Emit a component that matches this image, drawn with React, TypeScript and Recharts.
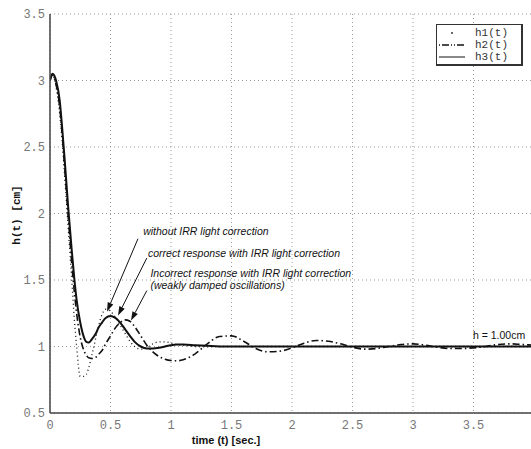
import React from 'react';
import { LineChart, Line, XAxis, YAxis, CartesianGrid, ReferenceLine, ReferenceDot, Label } from 'recharts';

const times = [0, 0.02, 0.05, 0.08, 0.1, 0.12, 0.15, 0.18, 0.2, 0.22, 0.25, 0.28, 0.3, 0.32, 0.35, 0.38, 0.4, 0.43, 0.46, 0.5, 0.54, 0.58, 0.62, 0.66, 0.7, 0.75, 0.8, 0.85, 0.9, 0.95, 1.0, 1.05, 1.1, 1.2, 1.3, 1.4, 1.5, 1.6, 1.7, 1.8, 1.9, 2.0, 2.1, 2.2, 2.3, 2.4, 2.5, 2.6, 2.7, 2.8, 2.9, 3.0, 3.1, 3.2, 3.3, 3.4, 3.5, 3.6, 3.7, 3.8, 3.9, 4.0];

// dotted: without IRR light correction
const h1 = [3.0, 3.04, 2.95, 2.75, 2.55, 2.3, 1.9, 1.5, 1.22, 1.0, 0.775, 0.775, 0.79, 0.84, 0.95, 1.07, 1.15, 1.24, 1.28, 1.265, 1.22, 1.16, 1.1, 1.04, 1.0, 0.98, 0.99, 1.02, 1.035, 1.035, 1.025, 1.015, 1.01, 1.0, 0.997, 1.0, 1.0, 1.0, 1.0, 1.0, 1.0, 1.0, 1.0, 1.0, 1.0, 1.0, 1.0, 1.0, 1.0, 1.0, 1.0, 1.0, 1.0, 1.0, 1.0, 1.0, 1.0, 1.0, 1.0, 1.0, 1.0, 1.0];

// dash-dot: incorrect response (weakly damped)
const h2 = [3.0, 3.04, 2.97, 2.8, 2.6, 2.36, 1.98, 1.62, 1.42, 1.25, 1.07, 0.97, 0.935, 0.915, 0.91, 0.92, 0.94, 0.97, 1.02, 1.08, 1.14, 1.18, 1.2, 1.19, 1.15, 1.08, 1.01, 0.96, 0.925, 0.905, 0.895, 0.893, 0.9, 0.945, 1.02, 1.075, 1.08, 1.04, 0.985, 0.96, 0.965, 0.99, 1.025, 1.045, 1.04, 1.02, 0.995, 0.98, 0.985, 1.0, 1.015, 1.02, 1.01, 0.995, 0.985, 0.985, 0.99, 1.0, 1.015, 1.02, 1.015, 1.01];

// solid: correct response
const h3 = [3.0, 3.05, 3.0, 2.85, 2.65, 2.42, 2.05, 1.72, 1.52, 1.35, 1.18, 1.07, 1.035, 1.03, 1.06, 1.1, 1.14, 1.18, 1.215, 1.23, 1.215, 1.18, 1.13, 1.08, 1.035, 1.0, 0.985, 0.985, 0.99, 1.0, 1.01, 1.015, 1.015, 1.01, 1.005, 1.0, 1.0, 1.0, 1.0, 1.0, 1.0, 1.0, 1.0, 1.0, 1.0, 1.0, 1.0, 1.0, 1.0, 1.0, 1.0, 1.0, 1.0, 1.0, 1.0, 1.0, 1.0, 1.0, 1.0, 1.0, 1.0, 1.0];

const xTicks = [0, 0.5, 1, 1.5, 2, 2.5, 3, 3.5];
const yTicks = [0.5, 1, 1.5, 2, 2.5, 3, 3.5];
const seriesNames = ['h1(t)', 'h2(t)', 'h3(t)'];

const annotationTexts = [
  { text: 'without IRR light correction', x: 0.77, y: 1.84, italic: true },
  { text: 'correct response with IRR light correction', x: 0.81, y: 1.675, italic: true },
  { text: 'Incorrect response with IRR light correction', x: 0.83, y: 1.525, italic: true },
  { text: '(weakly damped oscillations)', x: 0.83, y: 1.43, italic: true },
  { text: 'h = 1.00cm', x: 3.495, y: 1.06, italic: false },
];

const arrowSegments = [
  { x1: 0.727, y1: 1.81, x2: 0.471, y2: 1.263 },
  { x1: 0.8, y1: 1.665, x2: 0.562, y2: 1.233 },
  { x1: 0.8, y1: 1.42, x2: 0.669, y2: 1.195 },
];

const data = times.map((t, i) => ({ t, h1: h1[i], h2: h2[i], h3: h3[i] }));

const mono = '"Liberation Mono", "DejaVu Sans Mono", monospace';
const sans = '"Liberation Sans", Arial, sans-serif';

const Arrow = (p: any) => {
  const { x1, y1, x2, y2 } = p;
  const dx = x2 - x1;
  const dy = y2 - y1;
  const len = Math.sqrt(dx * dx + dy * dy) || 1;
  const ux = dx / len;
  const uy = dy / len;
  const L = 9;
  const W = 3;
  const bx = x2 - ux * L;
  const by = y2 - uy * L;
  const pts = `${x2},${y2} ${bx - uy * W},${by + ux * W} ${bx + uy * W},${by - ux * W}`;
  return (
    <g>
      <line x1={x1} y1={y1} x2={bx} y2={by} stroke="#111" strokeWidth={1} />
      <polygon points={pts} fill="#111" />
    </g>
  );
};

const makeText = (text: string, italic: boolean) => (p: any) => (
  <text x={p.cx} y={p.cy} fontFamily={sans} fontStyle={italic ? 'italic' : 'normal'} fontSize={10.5} fill="#111">
    {text}
  </text>
);

const LegendBox = () => (
  <div
    style={{
      position: 'absolute',
      left: 436,
      top: 24,
      width: 87,
      height: 42,
      border: '1px solid #333',
      borderRightWidth: 2,
      borderBottomWidth: 2,
      background: '#fff',
      boxSizing: 'border-box',
      padding: '2px 0 0 1px',
    }}
  >
    {seriesNames.map((name, i) => (
      <div key={name} style={{ display: 'flex', alignItems: 'center', height: 12 }}>
        <svg width={30} height={12}>
          {i === 0 && <circle cx={14} cy={6} r={0.9} fill="#222" />}
          {i === 1 && (
            <line x1={1} y1={6} x2={27} y2={6} stroke="#111" strokeWidth={1.6} strokeDasharray="1 2 7 2 1 2" />
          )}
          {i === 2 && <line x1={1} y1={6} x2={27} y2={6} stroke="#111" strokeWidth={1} />}
        </svg>
        <span style={{ fontFamily: mono, fontSize: 11, color: '#333', marginLeft: 7, lineHeight: '12px' }}>{name}</span>
      </div>
    ))}
  </div>
);

const XLabel = (props: any) => {
  const vb = props.viewBox || { x: 50, y: 413 };
  return (
    <text x={vb.x + 176} y={vb.y + 31} textAnchor="middle" fontFamily={sans} fontWeight="bold" fontSize={11} fill="#111">
      time (t) [sec.]
    </text>
  );
};

const YLabel = () => {
  const cx = 17;
  const cy = 215;
  return (
    <text
      x={cx}
      y={cy}
      textAnchor="middle"
      dominantBaseline="central"
      transform={`rotate(-90 ${cx} ${cy})`}
      fontFamily={mono}
      fontWeight="bold"
      fontSize={11}
      fill="#111"
    >
      h(t)  [cm]
    </text>
  );
};

const emptyTick = () => <g />;

export default function App() {
  return (
    <div style={{ position: 'absolute', left: 0, top: 0, width: 531, height: 449, overflow: 'hidden', background: '#fff' }}>
      <LineChart width={540} height={449} data={data} margin={{ top: 14, right: 6, bottom: 0, left: 0 }}>
        <CartesianGrid stroke="#999" strokeDasharray="1 3" />
        <XAxis
          dataKey="t"
          type="number"
          domain={[0, 4]}
          ticks={xTicks}
          allowDataOverflow
          height={36}
          tickLine={false}
          tickSize={0}
          tickMargin={7}
          axisLine={{ stroke: '#444', strokeWidth: 1.5 }}
          tick={{ fontFamily: mono, fontSize: 12, fill: '#777' }}
        >
          <Label content={XLabel} />
        </XAxis>
        <XAxis
          xAxisId="top"
          dataKey="t"
          type="number"
          orientation="top"
          domain={[0, 4]}
          ticks={xTicks}
          height={0}
          mirror
          tickSize={5}
          tick={emptyTick}
          tickLine={{ stroke: '#666' }}
          axisLine={{ stroke: '#666', strokeWidth: 2.5 }}
        />
        <YAxis
          type="number"
          domain={[0.5, 3.5]}
          ticks={yTicks}
          allowDataOverflow
          width={50}
          tickLine={false}
          tickSize={0}
          tickMargin={5}
          axisLine={{ stroke: '#444', strokeWidth: 1.5 }}
          tick={{ fontFamily: mono, fontSize: 12, fill: '#777' }}
        >
          <Label content={YLabel} />
        </YAxis>
        <Line dataKey="h1" type="monotone" stroke="#111" strokeWidth={1.3} strokeDasharray="1 3" dot={false} isAnimationActive={false} />
        <Line dataKey="h2" type="monotone" stroke="#111" strokeWidth={1.6} strokeDasharray="7 3 1.5 3" dot={false} isAnimationActive={false} />
        <Line dataKey="h3" type="monotone" stroke="#111" strokeWidth={2} dot={false} isAnimationActive={false} />
        {arrowSegments.map((a, i) => (
          <ReferenceLine
            key={'a' + i}
            segment={[{ x: a.x1, y: a.y1 }, { x: a.x2, y: a.y2 }]}
            ifOverflow="visible"
            shape={Arrow}
          />
        ))}
        {annotationTexts.map((a, i) => (
          <ReferenceDot key={'t' + i} x={a.x} y={a.y} r={0} ifOverflow="visible" shape={makeText(a.text, a.italic)} />
        ))}
      </LineChart>
      <LegendBox />
    </div>
  );
}
